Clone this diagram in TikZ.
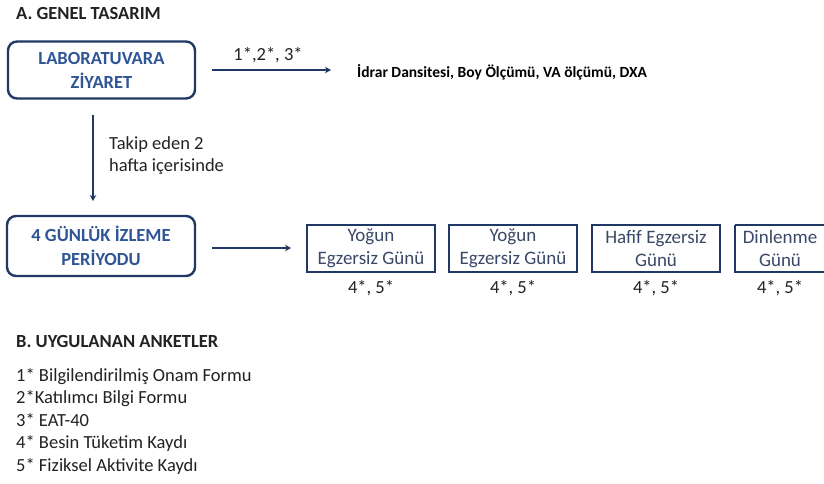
\documentclass[tikz,border=0pt]{standalone}
\usepackage{fontspec}
\setmainfont{Carlito}
\usetikzlibrary{arrows.meta}
\definecolor{navy}{HTML}{1F3864}
\definecolor{boxblue}{HTML}{2F5597}
\definecolor{slate}{HTML}{3A4868}
\definecolor{txt}{HTML}{222222}
\tikzset{
  bigbox/.style={draw=navy, line width=2.4pt, rounded corners=9pt, text=boxblue, font=\fontsize{18.5}{24}\selectfont\bfseries, align=center, inner sep=0pt},
  smallbox/.style={draw=navy, line width=2.2pt, text=slate, font=\fontsize{19}{23}\selectfont, align=center, inner sep=0pt},
  arr/.style={draw=navy, line width=1.9pt, -{Stealth[length=6pt,width=6.5pt]}},
  plain/.style={text=txt, font=\fontsize{18.5}{22}\selectfont, inner sep=0pt},
  listline/.style={text=txt, font=\fontsize{18.5}{22}\selectfont, inner sep=0pt, anchor=base west},
  head/.style={text=txt, font=\fontsize{18.5}{22}\selectfont\bfseries, inner sep=0pt, anchor=west},
}
\begin{document}
\begin{tikzpicture}[x=1pt,y=-1pt]
\useasboundingbox (0,0) rectangle (824,483);
\clip (0,0) rectangle (824,483);
\fill[white] (0,0) rectangle (824,483);
\node[head] (hA) at (16,13) {A. GENEL TASARIM};
\node[bigbox, minimum width=187pt, minimum height=57pt] (lab) at (101.5,70) {LABORATUVARA\\ZİYARET};
\coordinate (a1s) at (212,70);
\coordinate (a1e) at (331,70);
\draw[arr] (a1s) -- (a1e);
\node[plain] (l1) at (268,55) {1*,2*, 3*};
\node[text=black, font=\fontsize{15.5}{18}\selectfont\bfseries, inner sep=0pt, anchor=west] (idrar) at (357,72) {İdrar Dansitesi, Boy Ölçümü, VA ölçümü, DXA};
\node[bigbox, minimum width=188pt, minimum height=60pt] (mon) at (101,246) {4 GÜNLÜK İZLEME\\PERİYODU};
\coordinate (v1s) at (93,115);
\coordinate (v1e) at (93,201);
\draw[arr] (v1s) -- (v1e);
\node[plain, align=left, anchor=west] (takip) at (109,156) {Takip eden 2\\hafta içerisinde};
\coordinate (a2s) at (212,248);
\coordinate (a2e) at (291,248);
\draw[arr] (a2s) -- (a2e);
\node[smallbox, minimum width=128pt, minimum height=47pt] (d1) at (371,248.5) {Yoğun\\Egzersiz Günü};
\node[smallbox, minimum width=128pt, minimum height=47pt] (d2) at (513,248.5) {Yoğun\\Egzersiz Günü};
\node[smallbox, minimum width=128pt, minimum height=47pt] (d3) at (656,248.5) {Hafif Egzersiz\\Günü};
\draw[draw=navy, line width=2.2pt] (735,225) -- (832,225) (735,225) -- (735,272) -- (832,272);
\node[text=slate, font=\fontsize{19}{23}\selectfont, align=center, inner sep=0pt] (d4) at (780,248.5) {Dinlenme\\Günü};
\node[plain] (s1) at (371,288) {4*, 5*};
\node[plain] (s2) at (513,288) {4*, 5*};
\node[plain] (s3) at (656,288) {4*, 5*};
\node[plain] (s4) at (780,288) {4*, 5*};
\node[head] (hB) at (16,341) {B. UYGULANAN ANKETLER};
\node[listline] (q1) at (16,381) {1* Bilgilendirilmiş Onam Formu};
\node[listline] (q2) at (16,403.5) {2*Katılımcı Bilgi Formu};
\node[listline] (q3) at (16,426) {3* EAT-40};
\node[listline] (q4) at (16,448.5) {4* Besin Tüketim Kaydı};
\node[listline] (q5) at (16,471) {5* Fiziksel Aktivite Kaydı};
\end{tikzpicture}
\end{document}
